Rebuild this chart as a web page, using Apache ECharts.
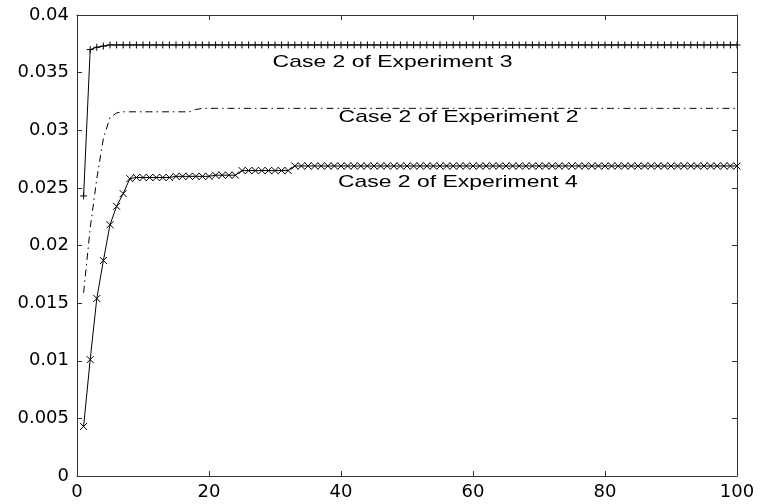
<!DOCTYPE html>
<html><head><meta charset="utf-8">
<script src="https://cdn.jsdelivr.net/npm/echarts@6/dist/echarts.min.js"></script>
<style>html,body{margin:0;padding:0;background:#fff}#c{width:760px;height:504px}</style>
</head><body><div id="c"></div>
<script>
const iterations = [
  1,2,3,4,5,6,7,8,9,10,11,12,13,14,15,16,17,18,19,20,
  21,22,23,24,25,26,27,28,29,30,31,32,33,34,35,36,37,38,39,40,
  41,42,43,44,45,46,47,48,49,50,51,52,53,54,55,56,57,58,59,60,
  61,62,63,64,65,66,67,68,69,70,71,72,73,74,75,76,77,78,79,80,
  81,82,83,84,85,86,87,88,89,90,91,92,93,94,95,96,97,98,99,100
];
const exp3 = [
  0.0243,0.0370,0.0372,0.0373,0.0374,0.0374,0.0374,0.0374,0.0374,0.0374,
  0.0374,0.0374,0.0374,0.0374,0.0374,0.0374,0.0374,0.0374,0.0374,0.0374,
  0.0374,0.0374,0.0374,0.0374,0.0374,0.0374,0.0374,0.0374,0.0374,0.0374,
  0.0374,0.0374,0.0374,0.0374,0.0374,0.0374,0.0374,0.0374,0.0374,0.0374,
  0.0374,0.0374,0.0374,0.0374,0.0374,0.0374,0.0374,0.0374,0.0374,0.0374,
  0.0374,0.0374,0.0374,0.0374,0.0374,0.0374,0.0374,0.0374,0.0374,0.0374,
  0.0374,0.0374,0.0374,0.0374,0.0374,0.0374,0.0374,0.0374,0.0374,0.0374,
  0.0374,0.0374,0.0374,0.0374,0.0374,0.0374,0.0374,0.0374,0.0374,0.0374,
  0.0374,0.0374,0.0374,0.0374,0.0374,0.0374,0.0374,0.0374,0.0374,0.0374,
  0.0374,0.0374,0.0374,0.0374,0.0374,0.0374,0.0374,0.0374,0.0374,0.0374
];
const exp2 = [
  0.0159,0.0215,0.0258,0.0293,0.0311,0.0315,0.0316,0.0316,0.0316,0.0316,
  0.0316,0.0316,0.0316,0.0316,0.0316,0.0316,0.0316,0.0318,0.0319,0.0319,
  0.0319,0.0319,0.0319,0.0319,0.0319,0.0319,0.0319,0.0319,0.0319,0.0319,
  0.0319,0.0319,0.0319,0.0319,0.0319,0.0319,0.0319,0.0319,0.0319,0.0319,
  0.0319,0.0319,0.0319,0.0319,0.0319,0.0319,0.0319,0.0319,0.0319,0.0319,
  0.0319,0.0319,0.0319,0.0319,0.0319,0.0319,0.0319,0.0319,0.0319,0.0319,
  0.0319,0.0319,0.0319,0.0319,0.0319,0.0319,0.0319,0.0319,0.0319,0.0319,
  0.0319,0.0319,0.0319,0.0319,0.0319,0.0319,0.0319,0.0319,0.0319,0.0319,
  0.0319,0.0319,0.0319,0.0319,0.0319,0.0319,0.0319,0.0319,0.0319,0.0319,
  0.0319,0.0319,0.0319,0.0319,0.0319,0.0319,0.0319,0.0319,0.0319,0.0319
];
const exp4 = [
  0.0043,0.0101,0.0154,0.0187,0.0218,0.0234,0.0245,0.0258,0.0259,0.0259,
  0.0259,0.0259,0.0259,0.0259,0.0260,0.0260,0.0260,0.0260,0.0260,0.0260,
  0.0261,0.0261,0.0261,0.0261,0.0265,0.0265,0.0265,0.0265,0.0265,0.0265,
  0.0265,0.0265,0.0269,0.0269,0.0269,0.0269,0.0269,0.0269,0.0269,0.0269,
  0.0269,0.0269,0.0269,0.0269,0.0269,0.0269,0.0269,0.0269,0.0269,0.0269,
  0.0269,0.0269,0.0269,0.0269,0.0269,0.0269,0.0269,0.0269,0.0269,0.0269,
  0.0269,0.0269,0.0269,0.0269,0.0269,0.0269,0.0269,0.0269,0.0269,0.0269,
  0.0269,0.0269,0.0269,0.0269,0.0269,0.0269,0.0269,0.0269,0.0269,0.0269,
  0.0269,0.0269,0.0269,0.0269,0.0269,0.0269,0.0269,0.0269,0.0269,0.0269,
  0.0269,0.0269,0.0269,0.0269,0.0269,0.0269,0.0269,0.0269,0.0269,0.0269
];
const seriesNames = ['Case 2 of Experiment 3', 'Case 2 of Experiment 2', 'Case 2 of Experiment 4'];
const labelX = [47.8, 57.8, 57.7];
const labelY = [0.0359, 0.0311, 0.0255];

const xMin = 0, xMax = 100, xStep = 20;
const yMin = 0, yMax = 0.04, yStep = 0.005;

const pairs = ys => iterations.map((x, i) => [x, ys[i]]);
const axisCol = '#333';
const tickFont = { color: '#000', fontFamily: 'DejaVu Sans', fontSize: 18 };

const xBase = { type: 'value', min: xMin, max: xMax, interval: xStep,
  axisLine: { show: true, onZero: false, lineStyle: { color: axisCol, width: 1 } },
  axisTick: { show: true, inside: true, length: 5, lineStyle: { color: axisCol } },
  splitLine: { show: false } };
const yBase = { type: 'value', min: yMin, max: yMax, interval: yStep,
  axisLine: { show: true, onZero: false, lineStyle: { color: axisCol, width: 1 } },
  axisTick: { show: true, inside: true, length: 5, lineStyle: { color: axisCol } },
  splitLine: { show: false } };

const plusPath = 'path://M0,5L10,5M5,0L5,10';
const crossPath = 'path://M0,0L10,10M10,0L0,10';

const chart = echarts.init(document.getElementById('c'), null, { renderer: 'canvas' });
const option = {
  backgroundColor: '#fff',
  animation: false,
  grid: { left: 77, right: 23, top: 15, bottom: 28, containLabel: false },
  xAxis: [
    Object.assign({}, xBase, { position: 'bottom', axisLabel: Object.assign({ margin: 7 }, tickFont) }),
    Object.assign({}, xBase, { position: 'top', axisLabel: { show: false } })
  ],
  yAxis: [
    Object.assign({}, yBase, { position: 'left', axisLabel: Object.assign({ margin: 8 }, tickFont) }),
    Object.assign({}, yBase, { position: 'right', axisLabel: { show: false } })
  ],
  series: [
    { name: seriesNames[0], type: 'line', data: pairs(exp3), symbol: plusPath, symbolSize: 7,
      itemStyle: { color: 'rgba(0,0,0,0)', borderColor: '#000', borderWidth: 1 },
      lineStyle: { color: '#000', width: 1 } },
    { name: seriesNames[1], type: 'line', data: pairs(exp2), symbol: 'none',
      lineStyle: { color: '#000', width: 1, type: [7, 4, 1.5, 4] } },
    { name: seriesNames[2], type: 'line', data: pairs(exp4), symbol: crossPath, symbolSize: 7,
      itemStyle: { color: 'rgba(0,0,0,0)', borderColor: '#000', borderWidth: 1 },
      lineStyle: { color: '#000', width: 1 } }
  ]
};
chart.setOption(option);
const graphics = seriesNames.map((t, i) => {
  const p = chart.convertToPixel({ xAxisIndex: 0, yAxisIndex: 0 }, [labelX[i], labelY[i]]);
  return { type: 'text', x: p[0], y: p[1], scaleX: 1.35, silent: true,
    style: { text: t, fontFamily: 'Liberation Sans', fontSize: 17, fill: '#000',
      align: 'center', verticalAlign: 'middle', textAlign: 'center', textVerticalAlign: 'middle' } };
});
chart.setOption({ graphic: graphics });
</script></body></html>
